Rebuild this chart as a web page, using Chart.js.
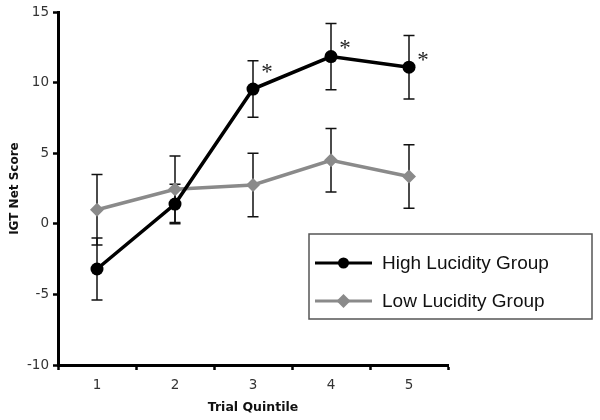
<!DOCTYPE html>
<html>
<head>
<meta charset="utf-8">
<script src="https://cdn.jsdelivr.net/npm/chart.js@4"></script>
<style>
  html, body { margin: 0; padding: 0; background: #fff; }
  #wrap { width: 600px; height: 420px; }
</style>
</head>
<body>
<div id="wrap"><canvas id="c" width="600" height="420"></canvas></div>
<script>
const categories = ['1', '2', '3', '4', '5'];
const highLabel = 'High Lucidity Group';
const lowLabel = 'Low Lucidity Group';
const highValues = [-3.2, 1.4, 9.55, 11.85, 11.1];
const highErrors = [2.2, 1.4, 2.0, 2.35, 2.25];
const lowValues = [1.0, 2.45, 2.75, 4.5, 3.35];
const lowErrors = [2.5, 2.35, 2.25, 2.25, 2.25];
const starIndices = [2, 3, 4];
const starValues = [11.0, 12.7, 11.8];
const yTicks = [-10, -5, 0, 5, 10, 15];

const BLACK = '#000000';
const GRAY = '#8a8a8a';

const errorBarPlugin = {
  id: 'errorBars',
  beforeDatasetsDraw(chart) {
    const ctx = chart.ctx;
    const xs = chart.scales.x, ys = chart.scales.y;
    const sets = [[highValues, highErrors], [lowValues, lowErrors]];
    ctx.save();
    ctx.strokeStyle = '#111';
    ctx.lineWidth = 1.5;
    sets.forEach(([vals, errs]) => {
      vals.forEach((v, i) => {
        const x = xs.getPixelForValue(i);
        const yt = ys.getPixelForValue(v + errs[i]);
        const yb = ys.getPixelForValue(v - errs[i]);
        ctx.beginPath();
        ctx.moveTo(x, yt); ctx.lineTo(x, yb);
        ctx.moveTo(x - 5.5, yt); ctx.lineTo(x + 5.5, yt);
        ctx.moveTo(x - 5.5, yb); ctx.lineTo(x + 5.5, yb);
        ctx.stroke();
      });
    });
    ctx.restore();
  },
  afterDatasetsDraw(chart) {
    const ctx = chart.ctx;
    const xs = chart.scales.x, ys = chart.scales.y;
    ctx.save();
    ctx.fillStyle = '#222';
    ctx.font = '23px "Liberation Serif"';
    ctx.textAlign = 'center';
    ctx.textBaseline = 'middle';
    starIndices.forEach((idx, k) => {
      const x = xs.getPixelForValue(idx) + 14;
      const y = ys.getPixelForValue(starValues[k]);
      ctx.fillText('*', x, y + 4);
    });
    ctx.restore();
  },
  afterDraw(chart) {
    const ctx = chart.ctx;
    ctx.save();
    ctx.fillStyle = '#fff';
    ctx.fillRect(309, 234, 283, 85);
    ctx.strokeStyle = '#555';
    ctx.lineWidth = 1.5;
    ctx.strokeRect(309, 234, 283, 85);
    const entries = [
      { label: highLabel, color: BLACK, y: 263, shape: 'circle' },
      { label: lowLabel, color: GRAY, y: 301, shape: 'diamond' }
    ];
    entries.forEach(e => {
      ctx.strokeStyle = e.color;
      ctx.lineWidth = 3;
      ctx.beginPath();
      ctx.moveTo(315, e.y); ctx.lineTo(372, e.y);
      ctx.stroke();
      ctx.fillStyle = e.color;
      ctx.beginPath();
      if (e.shape === 'circle') {
        ctx.arc(343.5, e.y, 5.5, 0, Math.PI * 2);
      } else {
        ctx.moveTo(343.5, e.y - 7); ctx.lineTo(350.5, e.y);
        ctx.lineTo(343.5, e.y + 7); ctx.lineTo(336.5, e.y);
        ctx.closePath();
      }
      ctx.fill();
      ctx.fillStyle = '#111';
      ctx.font = '19px "Liberation Sans"';
      ctx.textAlign = 'left';
      ctx.textBaseline = 'middle';
      ctx.fillText(e.label, 382, e.y + 1);
    });
    ctx.restore();
  }
};

new Chart(document.getElementById('c'), {
  type: 'line',
  data: {
    labels: categories,
    datasets: [
      {
        label: highLabel,
        data: highValues,
        borderColor: BLACK,
        backgroundColor: BLACK,
        borderWidth: 3.5,
        pointStyle: 'circle',
        pointRadius: 6.5,
        pointBackgroundColor: BLACK,
        pointBorderWidth: 0,
        tension: 0,
        order: 1
      },
      {
        label: lowLabel,
        data: lowValues,
        borderColor: GRAY,
        backgroundColor: GRAY,
        borderWidth: 3.5,
        pointStyle: 'rectRot',
        pointRadius: 7,
        pointBackgroundColor: GRAY,
        pointBorderWidth: 0,
        tension: 0,
        order: 2
      }
    ]
  },
  options: {
    responsive: false,
    animation: false,
    devicePixelRatio: 1,
    layout: { padding: { top: 12, right: 152, bottom: 0, left: 0 } },
    plugins: {
      legend: { display: false },
      tooltip: { enabled: false },
      title: { display: false }
    },
    scales: {
      x: {
        type: 'category',
        offset: true,
        grid: {
          offset: true,
          drawOnChartArea: false,
          drawTicks: true,
          tickLength: 5,
          tickWidth: 2.5,
          tickColor: '#000'
        },
        border: { display: true, color: '#000', width: 3 },
        ticks: {
          color: '#333',
          font: { family: '"DejaVu Sans"', size: 13.5 },
          padding: 7,
          maxRotation: 0
        },
        title: {
          display: true,
          text: 'Trial Quintile',
          color: '#111',
          font: { family: '"DejaVu Sans"', size: 12.5, weight: 'bold' },
          padding: { top: 4, bottom: 5 }
        },
        afterFit(scale) { scale.height = 55; }
      },
      y: {
        min: -10,
        max: 15,
        afterBuildTicks(scale) { scale.ticks = yTicks.map(v => ({ value: v })); },
        grid: {
          drawOnChartArea: false,
          drawTicks: true,
          tickLength: 5,
          tickWidth: 2.5,
          tickColor: '#000'
        },
        border: { display: true, color: '#000', width: 3 },
        ticks: {
          color: '#333',
          font: { family: '"DejaVu Sans"', size: 13.5 },
          padding: 4
        },
        title: {
          display: true,
          text: 'IGT Net Score',
          color: '#111',
          font: { family: '"DejaVu Sans"', size: 12, weight: 'bold' },
          padding: { top: 8, bottom: 4 }
        },
        afterFit(scale) { scale.width = 58; }
      }
    }
  },
  plugins: [errorBarPlugin]
});
</script>
</body>
</html>
